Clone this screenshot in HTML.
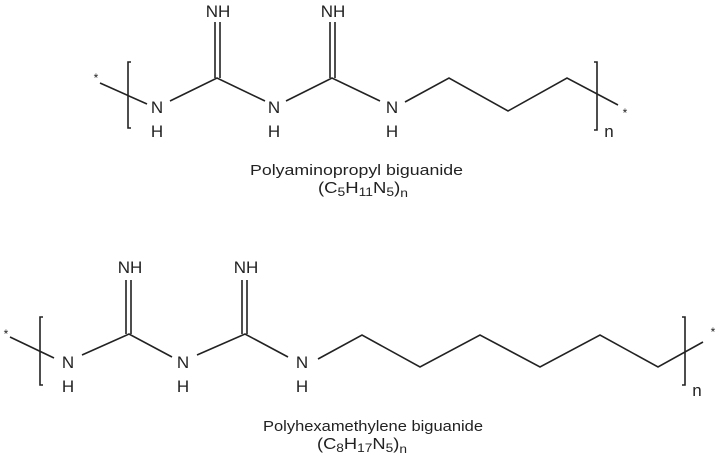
<!DOCTYPE html>
<html><head><meta charset="utf-8"><style>html,body{margin:0;padding:0;background:#fff}svg{display:block}</style></head>
<body>
<svg width="720" height="463" viewBox="0 0 720 463" xmlns="http://www.w3.org/2000/svg" font-family="Liberation Sans, sans-serif" fill="#222">
<g stroke="#222" stroke-width="1.6" fill="none">
<path d="M100,83 L147,104"/>
<path d="M131,62 L128,62 L128,128 L131,128"/>
<path d="M170,101 L217,78 L265,101"/>
<path d="M215,22 V78 M220,22 V78"/>
<path d="M286,101 L332,78 L380,101"/>
<path d="M330,22 V78 M335,22 V78"/>
<path d="M405,102 L449,78 L508,111 L567,78 L618,105"/>
<path d="M594,62 L597,62 L597,130 L594,130"/>
<path d="M10,337 L54,358"/>
<path d="M43,317 L40,317 L40,385 L43,385"/>
<path d="M82,355 L129,334 L172,357"/>
<path d="M126,280 V334 M131,280 V334"/>
<path d="M197,355 L245,334 L288,357"/>
<path d="M242,280 V334 M247,280 V334"/>
<path d="M318,359 L362,335 L420,367 L480,335 L540,367 L600,335 L658,367 L703,342"/>
<path d="M682,317 L685,317 L685,385 L682,385"/>
</g>
<g font-size="17" text-anchor="middle">
<text x="157" y="113">N</text><text x="157" y="137">H</text>
<text x="274" y="113">N</text><text x="274" y="137">H</text>
<text x="392" y="113">N</text><text x="392" y="137">H</text>
<text x="218" y="17">NH</text><text x="333" y="17">NH</text>
<text x="68" y="368">N</text><text x="68" y="392">H</text>
<text x="183" y="368">N</text><text x="183" y="392">H</text>
<text x="302" y="368">N</text><text x="302" y="392">H</text>
<text x="130" y="273">NH</text><text x="246" y="273">NH</text>
<text x="609" y="137">n</text><text x="697" y="396">n</text>
</g>
<g font-size="12" text-anchor="middle">
<text x="96" y="82">*</text><text x="625" y="117">*</text>
<text x="6" y="338">*</text><text x="713" y="336">*</text>
</g>
<g font-size="15">
<text x="250" y="175" textLength="213" lengthAdjust="spacingAndGlyphs">Polyaminopropyl biguanide</text>
<text x="318" y="193" font-size="16" textLength="90" lengthAdjust="spacingAndGlyphs">(C<tspan font-size="12" dy="3">5</tspan><tspan dy="-3">H</tspan><tspan font-size="12" dy="3">11</tspan><tspan dy="-3">N</tspan><tspan font-size="12" dy="3">5</tspan><tspan dy="-3">)</tspan><tspan font-size="12" dy="4">n</tspan></text>
<text x="263" y="431" textLength="220" lengthAdjust="spacingAndGlyphs">Polyhexamethylene biguanide</text>
<text x="317" y="449" font-size="16" textLength="90" lengthAdjust="spacingAndGlyphs">(C<tspan font-size="12" dy="3">8</tspan><tspan dy="-3">H</tspan><tspan font-size="12" dy="3">17</tspan><tspan dy="-3">N</tspan><tspan font-size="12" dy="3">5</tspan><tspan dy="-3">)</tspan><tspan font-size="12" dy="4">n</tspan></text>
</g>
</svg>
</body></html>
